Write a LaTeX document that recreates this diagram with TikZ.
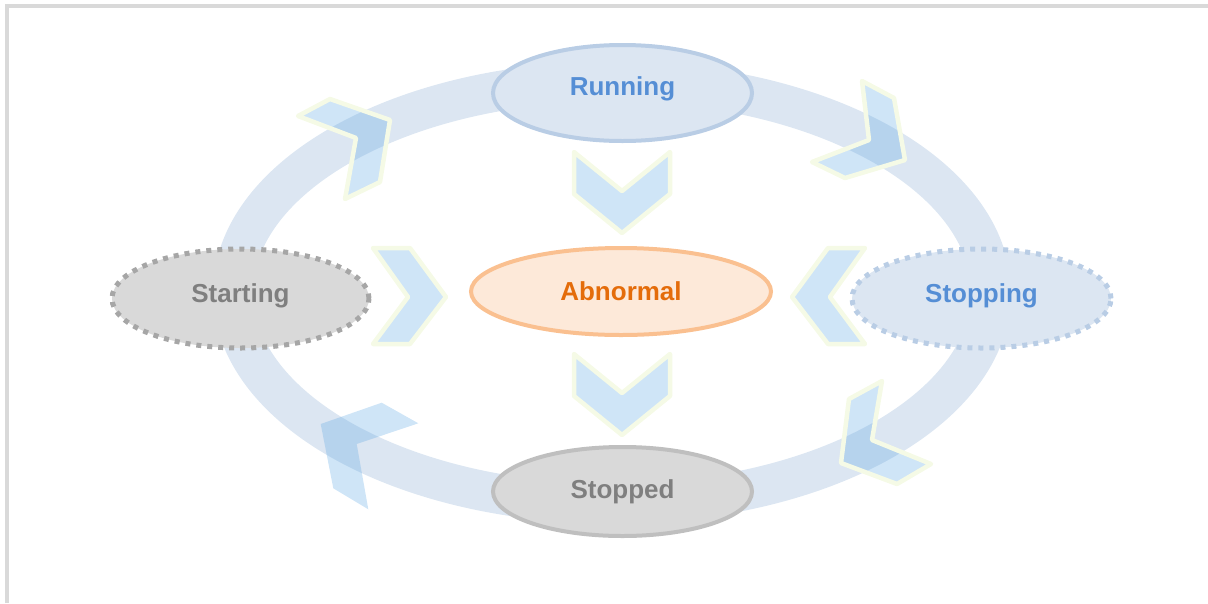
\documentclass[tikz,border=0pt]{standalone}
\usepackage{fontspec}
\setmainfont{Liberation Sans}
\usetikzlibrary{shapes.geometric}

\definecolor{ringblue}{RGB}{220,230,242}
\definecolor{arrowblue}{RGB}{100,171,229}
\definecolor{arrowedge}{RGB}{245,250,230}
\definecolor{framegray}{RGB}{217,217,217}
\definecolor{bluefill}{RGB}{220,230,242}
\definecolor{blueline}{RGB}{185,205,229}
\definecolor{bluetext}{RGB}{85,142,213}
\definecolor{orangefill}{RGB}{253,233,217}
\definecolor{orangeline}{RGB}{250,192,144}
\definecolor{orangetext}{RGB}{228,108,10}
\definecolor{grayfill}{RGB}{217,217,217}
\definecolor{grayline}{RGB}{191,191,191}
\definecolor{graydots}{RGB}{166,166,166}
\definecolor{graytext}{RGB}{127,127,127}

\begin{document}
\begin{tikzpicture}[x=1pt, y=-1pt,
  state/.style={ellipse, inner sep=0pt, line width=4pt,
    font=\fontsize{26}{30}\selectfont\bfseries},
  lifted/.style={text depth=#1},
  dotline/.style={line width=5pt, dash pattern=on 5pt off 6pt},
  chevron/.style={fill=arrowblue, fill opacity=0.31, draw=arrowedge,
    line width=4.5pt, line join=round},
  plainchevron/.style={fill=arrowblue, fill opacity=0.31, draw=none}]

\useasboundingbox (0,0) rectangle (1208,603);

% page frame (top and left edges)
\draw[framegray, line width=4pt] (7,603) -- (7,6) -- (1208,6);

% circulation ring
\draw[ringblue, line width=40pt] (612,292.5) ellipse [x radius=379, y radius=211];

% corner arrows along the ring
\draw[chevron] (298,116) -- (330,99) -- (390,120) -- (380,182) -- (345,199) -- (356,138) -- cycle;
\draw[chevron] (862,81) -- (894,98) -- (905,160) -- (845,178) -- (812,162) -- (869,140) -- cycle;
\draw[chevron] (882,381) -- (849,399) -- (841,463) -- (897,484) -- (931,464) -- (872,440) -- cycle;
\draw[plainchevron] (381.7,402.7) -- (418.3,423.3) -- (356.7,444) -- (368.3,509.3) -- (333.3,488.3) -- (320.7,424) -- cycle;

% chevrons pointing to the centre
\draw[chevron] (574,152) -- (622,191) -- (670,152) -- (670,194) -- (622,233) -- (574,194) -- cycle;
\draw[chevron] (574,354) -- (622,393) -- (670,354) -- (670,396) -- (622,435) -- (574,396) -- cycle;
\draw[chevron] (373,248) -- (410,248) -- (446,297) -- (410,344) -- (373,344) -- (408,297) -- cycle;
\draw[chevron] (865,248) -- (828,248) -- (792,297) -- (828,344) -- (865,344) -- (830,297) -- cycle;

% states
\node[state, lifted=13pt, draw=blueline, fill=bluefill, text=bluetext,
  minimum width=259pt, minimum height=96pt] (running) at (622.5,93) {Running};
\node[state, draw=orangeline, fill=orangefill, text=orangetext,
  minimum width=300pt, minimum height=87pt] (abnormal) at (621,291.5) {Abnormal};
\node[state, lifted=11.5pt, dotline, draw=graydots, fill=grayfill, text=graytext,
  minimum width=257pt, minimum height=99pt] (starting) at (240.5,298.5) {Starting};
\node[state, lifted=11.5pt, dotline, draw=blueline, fill=bluefill, text=bluetext,
  minimum width=259pt, minimum height=99pt] (stopping) at (981.5,298.5) {Stopping};
\node[state, draw=grayline, fill=grayfill, text=graytext,
  minimum width=259pt, minimum height=89pt] (stopped) at (622.5,491.5) {Stopped};

\end{tikzpicture}
\end{document}
